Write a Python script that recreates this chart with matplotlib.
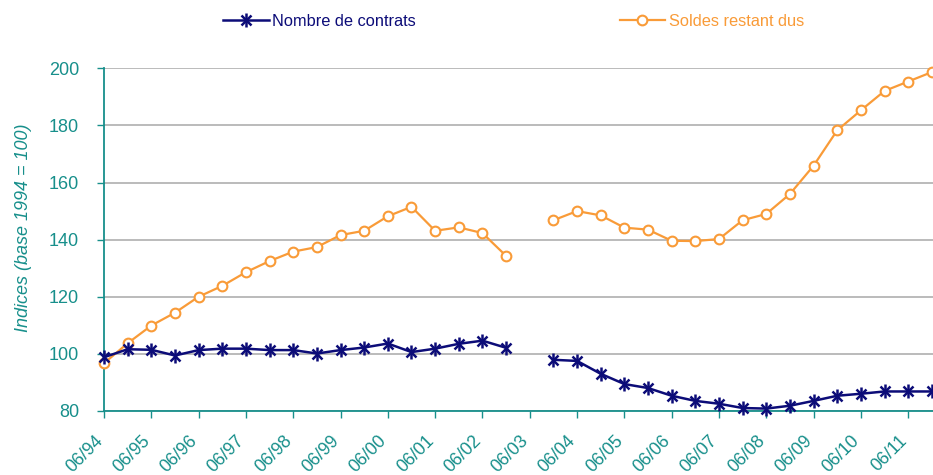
import numpy as np
import matplotlib
matplotlib.use("Agg")
import matplotlib.pyplot as plt
from matplotlib.lines import Line2D
from matplotlib.transforms import ScaledTranslation

plt.rcParams['font.family'] = ['Liberation Sans', 'DejaVu Sans']

tick_labels = ["06/94", "06/95", "06/96", "06/97", "06/98", "06/99", "06/00", "06/01",
               "06/02", "06/03", "06/04", "06/05", "06/06", "06/07", "06/08", "06/09",
               "06/10", "06/11"]

nan = np.nan
soldes = [96.7, 103.7, 109.9, 114.4, 120.0, 123.8, 128.6, 132.5, 135.8, 137.4,
          141.6, 143.1, 148.2, 151.5, 143.1, 144.3, 142.3, 134.3, nan,
          146.8, 150.0, 148.5, 144.2, 143.5, 139.6, 139.5, 140.2, 146.8, 149.0,
          156.0, 165.9, 178.3, 185.3, 192.1, 195.4, 198.7]
contrats = [98.8, 101.6, 101.4, 99.4, 101.3, 101.8, 101.8, 101.3, 101.3, 100.1,
            101.3, 102.2, 103.6, 100.6, 101.8, 103.5, 104.6, 102.1, nan,
            97.9, 97.5, 93.0, 89.4, 88.0, 85.3, 83.5, 82.5, 81.0, 80.8,
            81.8, 83.5, 85.3, 86.0, 86.8, 86.8, 86.8]

navy = '#0c0c78'
orange = '#f99b38'
teal = '#178f8b'

fig = plt.figure(figsize=(9.33, 4.75), dpi=100)
ax = fig.add_axes([0.1115, 0.135, 0.8885, 0.721])

x = np.arange(len(soldes))
ax.plot(x, soldes, color=orange, lw=1.6, marker='o', ms=7, mfc='white',
        mec=orange, mew=1.5, zorder=3, clip_on=False)
ax.plot(x, contrats, color=navy, lw=1.8, marker='x', ms=7.5, mew=1.8, zorder=4, clip_on=False)
ax.plot(x, contrats, color=navy, lw=0, marker='|', ms=9.5, mew=1.8, zorder=4, clip_on=False)

ax.set_xlim(0, 35.05)
ax.set_ylim(80, 200)
ax.set_yticks(np.arange(80, 201, 20))
ax.set_xticks(np.arange(0, 2 * len(tick_labels), 2))
ax.set_xticklabels(tick_labels, rotation=45, ha='right', rotation_mode='anchor')

for s in ['top', 'right']:
    ax.spines[s].set_visible(False)
for s in ['left', 'bottom']:
    ax.spines[s].set_color(teal)
    ax.spines[s].set_linewidth(1.3)

ax.yaxis.grid(True, color='#a8a8a8', lw=1.1)
ax.set_axisbelow(True)
ax.tick_params(axis='y', colors=teal, labelsize=13, length=5, width=1, pad=13)
ax.tick_params(axis='x', colors=teal, labelsize=12.8, length=5, width=1, pad=8)
ax.set_ylabel('Indices (base 1994 = 100)', color=teal, fontsize=13, style='italic')
ax.yaxis.set_label_coords(-0.087, 0.534)

offset = ScaledTranslation(-0.10, -0.035, fig.dpi_scale_trans)
for lab in ax.get_xticklabels():
    lab.set_transform(lab.get_transform() + offset)

h1 = (Line2D([], [], color=navy, lw=1.8, marker='x', ms=7.5, mew=1.8),
      Line2D([], [], color=navy, lw=0, marker='|', ms=9.5, mew=1.8))
h2 = Line2D([], [], color=orange, lw=1.6, marker='o', ms=7, mfc='white', mec=orange, mew=1.5)

leg1 = fig.legend([h1], ['Nombre de contrats'], loc='center left',
                  bbox_to_anchor=(0.232, 0.955), frameon=False, fontsize=11.8,
                  handlelength=2.8, handletextpad=0.2, borderaxespad=0)
for t in leg1.get_texts():
    t.set_color(navy)
leg2 = fig.legend([h2], ['Soldes restant dus'], loc='center left',
                  bbox_to_anchor=(0.657, 0.955), frameon=False, fontsize=11.8,
                  handlelength=2.8, handletextpad=0.2, borderaxespad=0)
for t in leg2.get_texts():
    t.set_color(orange)

fig.savefig('out.png', dpi=100)
